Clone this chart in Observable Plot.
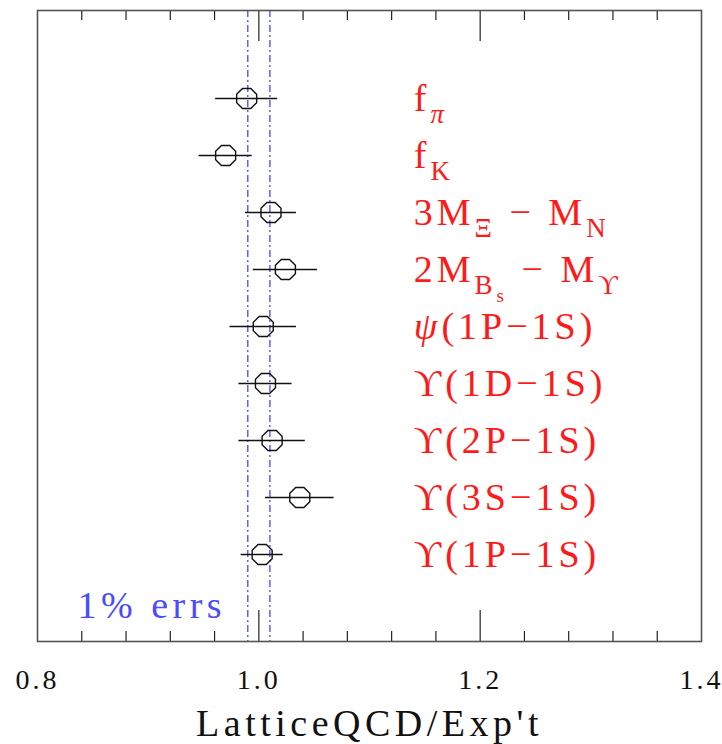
<!DOCTYPE html>
<html>
<head>
<meta charset="utf-8">
<script src="https://cdn.jsdelivr.net/npm/d3@7"></script>
<script src="https://cdn.jsdelivr.net/npm/@observablehq/plot@0.6"></script>
<style>
  html, body { margin: 0; padding: 0; background: #fff; }
  #chart svg, #chart svg text { font-family: "Liberation Serif", "Times New Roman", "DejaVu Serif", serif !important; }
</style>
</head>
<body>
<div id="chart"></div>
<script>
// ---- data ----
const labels = [
  "f_{π}",
  "f_{K}",
  "3M_{Ξ} − M_{N}",
  "2M_{B_{s}} − M_{ϒ}",
  "ψ(1P−1S)",
  "ϒ(1D−1S)",
  "ϒ(2P−1S)",
  "ϒ(3S−1S)",
  "ϒ(1P−1S)"
];
const ratios = [0.989, 0.970, 1.011, 1.024, 1.004, 1.006, 1.012, 1.037, 1.003];
const errors = [0.028, 0.024, 0.023, 0.029, 0.030, 0.024, 0.030, 0.031, 0.019];
const xTicks = [0.8, 1.0, 1.2, 1.4];
const majorTicks = [1.0, 1.2];
const minorTicks = [0.84, 0.88, 0.92, 0.96, 1.04, 1.08, 1.12, 1.16, 1.24, 1.28, 1.32, 1.36];
const bandLines = [0.99, 1.01];
const labelX = 1.14;
const xTitle = "LatticeQCD/Exp't";
const bandText = "1% errs";

const FONT = "'Liberation Serif', 'Times New Roman', 'DejaVu Serif', serif";
const plain = s => s.replace(/_\{/g, "").replace(/\}/g, "");
const rows = labels.map((l, i) => ({name: plain(l), markup: l, v: ratios[i], lo: ratios[i] - errors[i], hi: ratios[i] + errors[i]}));

// octagon symbol (flat sides), apothem = r
const octagon = {
  draw(context, size) {
    const a = Math.sqrt(size / Math.PI);
    const R = a / Math.cos(Math.PI / 8);
    for (let k = 0; k < 8; ++k) {
      const t = Math.PI / 8 + k * Math.PI / 4;
      const x = R * Math.cos(t), y = R * Math.sin(t);
      if (k === 0) context.moveTo(x, y); else context.lineTo(x, y);
    }
    context.closePath();
  }
};

const W = 722, H = 744;
const mT = 10, mB = 103, mL = 37, mR = 21;
const innerH = H - mT - mB;
const minorLen = 10, majorLen = 31;

const plot = Plot.plot({
  width: W,
  height: H,
  marginTop: mT,
  marginBottom: mB,
  marginLeft: mL,
  marginRight: mR,
  style: {fontFamily: FONT, background: "#fff"},
  x: {domain: [0.8, 1.4]},
  y: {type: "point", domain: rows.map(d => d.name), padding: 1.5, axis: null},
  marks: [
    Plot.axisX(xTicks, {tickSize: 0, tickPadding: 28, fontSize: 28, fontFamily: FONT, tickFormat: d3.format(".1f"), label: null, color: "#111"}),
    // interior tick marks: top
    Plot.ruleX(minorTicks, {x: d => d, insetBottom: innerH - minorLen, stroke: "#222", strokeWidth: 1.2}),
    Plot.ruleX(majorTicks, {x: d => d, insetBottom: innerH - majorLen, stroke: "#222", strokeWidth: 1.2}),
    // interior tick marks: bottom
    Plot.ruleX(minorTicks, {x: d => d, insetTop: innerH - minorLen, stroke: "#222", strokeWidth: 1.2}),
    Plot.ruleX(majorTicks, {x: d => d, insetTop: innerH - majorLen, stroke: "#222", strokeWidth: 1.2}),
    // 1% band
    Plot.ruleX(bandLines, {x: d => d, stroke: "#5f5fff", strokeWidth: 1.5, strokeDasharray: "7,3,2,3"}),
    // error bars
    Plot.ruleY(rows, {y: "name", x1: "lo", x2: "hi", stroke: "#111", strokeWidth: 1.3}),
    Plot.dot(rows, {x: "v", y: "name", r: 10, symbol: octagon, stroke: "#111", strokeWidth: 1.4, fill: "none"}),
    // labels
    Plot.text(rows, {x: () => labelX, y: "name", text: "name", textAnchor: "start", lineAnchor: "middle", fontSize: 38, fontFamily: FONT, fill: "#ff1a1a", ariaDescription: "labels"}),
    Plot.text([bandText], {frameAnchor: "bottom-left", text: d => d, dx: 40, dy: -24, textAnchor: "start", lineAnchor: "bottom", fontSize: 38, fontFamily: FONT, fill: "#4a4aff", ariaDescription: "band"}),
    Plot.text([xTitle], {frameAnchor: "bottom", text: d => d, dy: 94, lineAnchor: "bottom", fontSize: 38, fontFamily: FONT, fill: "#111", ariaDescription: "title"}),
    Plot.frame({stroke: "#555", strokeWidth: 1.6})
  ]
});

document.getElementById("chart").appendChild(plot);

// ---- post-processing: letter spacing and subscripts ----
const svg = d3.select(plot);
svg.selectAll('g[aria-label="x-axis tick label"] text').attr("letter-spacing", 3);
svg.selectAll('g[aria-description="title"] text').attr("letter-spacing", 4.5);
svg.selectAll('g[aria-description="band"] text').attr("letter-spacing", 4.5);

function parse(s, level = 0, out = []) {
  let buf = "", i = 0;
  const flush = () => { if (buf) { out.push({text: buf, level}); buf = ""; } };
  while (i < s.length) {
    if (s[i] === "_" && s[i + 1] === "{") {
      flush();
      let depth = 1, j = i + 2;
      while (j < s.length && depth > 0) { if (s[j] === "{") depth++; else if (s[j] === "}") depth--; j++; }
      parse(s.slice(i + 2, j - 1), level + 1, out);
      i = j;
    } else { buf += s[i]; i++; }
  }
  flush();
  return out;
}
const sizes = [38, 27, 19];
const shifts = [0, 12, 20];
const isGreekLower = c => /[α-ω]/.test(c);

svg.selectAll('g[aria-description="labels"] text').each(function(_, idx) {
  const t = d3.select(this);
  const name = t.text();
  const row = rows.find(r => r.name === name) || rows[idx];
  t.text(null).attr("letter-spacing", 4);
  let cur = 0;
  for (const seg of parse(row.markup)) {
    const runs = [];
    for (const c of seg.text) {
      const it = isGreekLower(c);
      if (runs.length && runs[runs.length - 1].it === it) runs[runs.length - 1].s += c;
      else runs.push({s: c, it});
    }
    for (const r of runs) {
      const ts = t.append("tspan").attr("font-size", sizes[seg.level]).text(r.s);
      if (r.it) ts.attr("font-style", "italic");
      const dy = shifts[seg.level] - cur;
      if (dy !== 0) ts.attr("dy", dy);
      cur = shifts[seg.level];
    }
  }
});
</script>
</body>
</html>
